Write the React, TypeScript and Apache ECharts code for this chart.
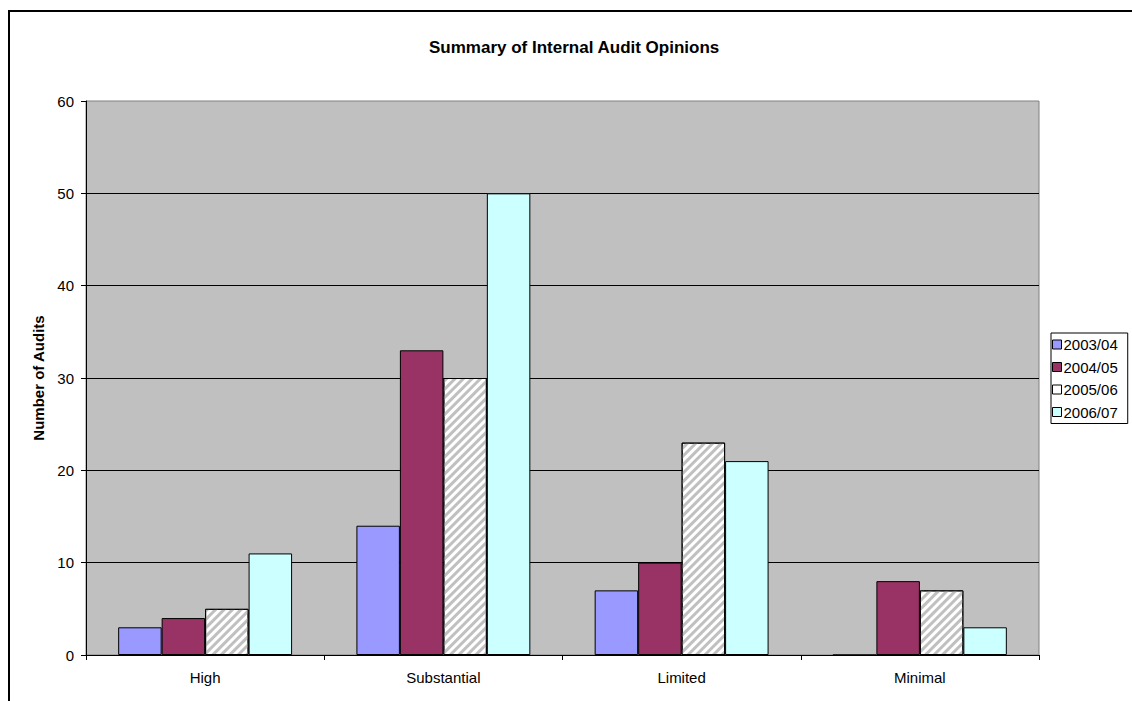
import React, { useEffect, useRef } from "react";
import * as echarts from "echarts";

const categories = ["High", "Substantial", "Limited", "Minimal"];
const seriesNames = ["2003/04", "2004/05", "2005/06", "2006/07"];
const values2003 = [3, 14, 7, 0];
const values2004 = [4, 33, 10, 8];
const values2005 = [5, 30, 23, 7];
const values2006 = [11, 50, 21, 3];
const yTicks = [0, 10, 20, 30, 40, 50, 60];

const FONT = "'Liberation Sans', Arial, sans-serif";

export default function App() {
  const ref = useRef<HTMLDivElement>(null);
  useEffect(() => {
    if (!ref.current) return;
    const chart = echarts.init(ref.current, null, { renderer: "svg" });
    const base = {
      type: "bar",
      barGap: "0%",
      barCategoryGap: "27%",
      itemStyle: { borderColor: "#000", borderWidth: 1 },
    };
    const hatch = {
      symbol: "rect",
      symbolSize: 1,
      dashArrayX: [1, 0],
      dashArrayY: [3, 3],
      rotation: -Math.PI / 4,
      color: "#C0C0C0",
    };
    chart.setOption({
      animation: false,
      textStyle: { fontFamily: FONT },
      graphic: [
        {
          type: "rect",
          shape: { x: 9, y: 11, width: 1300, height: 900 },
          style: { fill: "none", stroke: "#000", lineWidth: 2 },
          silent: true,
        },
      ],
      title: {
        text: "Summary of Internal Audit Opinions",
        left: 429,
        top: 39,
        padding: 0,
        textStyle: { fontSize: 17, fontWeight: "bold", color: "#000", fontFamily: FONT },
      },
      legend: {
        orient: "vertical",
        left: 1051,
        top: 333,
        padding: [4, 10, 4, 1],
        itemWidth: 9,
        itemHeight: 9,
        itemGap: 7.5,
        borderColor: "#000",
        borderWidth: 1,
        backgroundColor: "#fff",
        textStyle: { fontSize: 15, color: "#000", lineHeight: 15, fontFamily: FONT, padding: [0, 0, 0, -3] },
        data: seriesNames.map((n, i) => ({
          name: n,
          icon: "rect",
          itemStyle: i === 2 ? { color: "#fff", borderColor: "#000", borderWidth: 1, decal: "none" } : { borderColor: "#000", borderWidth: 1 },
        })),
      },
      grid: {
        left: 86,
        top: 101,
        right: 93,
        bottom: 46,
        show: true,
        backgroundColor: "#C0C0C0",
        borderColor: "#808080",
        borderWidth: 1,
      },
      xAxis: {
        type: "category",
        data: categories,
        axisLine: { lineStyle: { color: "#000", width: 1 } },
        axisTick: { show: true, length: 5, lineStyle: { color: "#000" } },
        axisLabel: { fontSize: 15, color: "#000", margin: 15, fontFamily: FONT },
      },
      yAxis: {
        type: "value",
        min: yTicks[0],
        max: yTicks[yTicks.length - 1],
        interval: 10,
        name: "Number of Audits",
        nameLocation: "middle",
        nameRotate: 90,
        nameGap: 38,
        nameTextStyle: { fontSize: 15, fontWeight: "bold", color: "#000", fontFamily: FONT },
        axisLine: { show: true, lineStyle: { color: "#000", width: 1 } },
        axisTick: { show: true, length: 5, lineStyle: { color: "#000" } },
        axisLabel: { fontSize: 15, color: "#000", margin: 12, fontFamily: FONT },
        splitLine: { show: true, showMaxLine: false, lineStyle: { color: "#000", width: 1 } },
      },
      series: [
        { ...base, name: seriesNames[0], data: values2003, itemStyle: { ...base.itemStyle, color: "#9999FF" } },
        { ...base, name: seriesNames[1], data: values2004, itemStyle: { ...base.itemStyle, color: "#993366" } },
        { ...base, name: seriesNames[2], data: values2005, itemStyle: { ...base.itemStyle, color: "#FFFFFF", decal: hatch } },
        { ...base, name: seriesNames[3], data: values2006, itemStyle: { ...base.itemStyle, color: "#CCFFFF" } },
      ],
    });
    return () => chart.dispose();
  }, []);
  return (
    <div
      ref={ref}
      style={{ position: "fixed", left: 0, top: 0, width: 1132, height: 701, background: "#fff" }}
    />
  );
}
